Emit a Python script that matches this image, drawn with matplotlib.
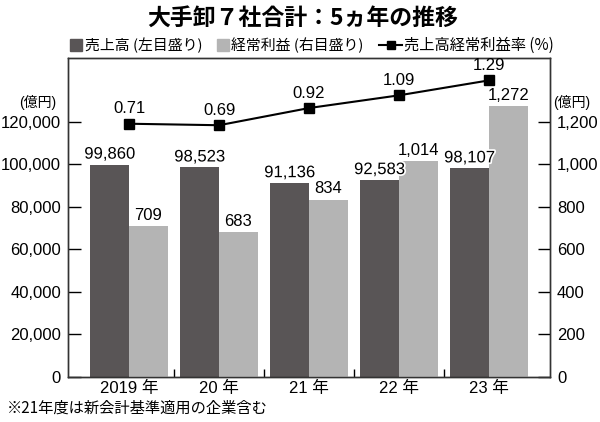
import numpy as np
import matplotlib.pyplot as plt
import matplotlib.patheffects as pe

plt.rcParams['font.family'] = ['Liberation Sans', 'Noto Sans CJK JP', 'DejaVu Sans']

years = ['2019 年', '20 年', '21 年', '22 年', '23 年']
sales = [99860, 98523, 91136, 92583, 98107]
profit = [709, 683, 834, 1014, 1272]
ratio = [0.71, 0.69, 0.92, 1.09, 1.29]

dark = '#595556'
light = '#b4b4b4'

fig = plt.figure(figsize=(6, 4.22), dpi=100)
ax = fig.add_axes([0.1133, 0.1066, 0.8034, 0.756])
ax2 = ax.twinx()
ax3 = ax.twinx()

x = np.arange(len(years))
w = 0.43
ax.bar(x - w / 2, sales, w, color=dark, zorder=2)
ax2.bar(x + w / 2, profit, w, color=light, zorder=2)

halo = [pe.withStroke(linewidth=2.5, foreground='white')]
for xi, v in zip(x, sales):
    ax3.text(xi - w / 2, -2.68 + v / 150000 * 4.27 + 0.04, f'{v:,}', ha='center',
             va='bottom', fontsize=12, path_effects=halo, zorder=5)
for xi, v in zip(x, profit):
    ax2.text(xi + w / 2, v + 15, f'{v:,}', ha='center', va='bottom', fontsize=12)

ax3.plot(x, ratio, color='black', lw=1.5, marker='s', ms=7)
for xi, v in zip(x, ratio):
    ax3.text(xi, v + 0.1, f'{v:.2f}', ha='center', va='bottom', fontsize=12)

ax.set_xlim(-0.68, 4.68)
ax.set_ylim(0, 150000)
ax2.set_ylim(0, 1500)
ax3.set_ylim(-2.68, 1.59)
ax3.axis('off')

ax.set_yticks(np.arange(0, 120001, 20000))
ax.set_yticklabels([f'{v:,}' for v in range(0, 120001, 20000)])
ax2.set_yticks(np.arange(0, 1201, 200))
ax2.set_yticklabels([f'{v:,}' for v in range(0, 1201, 200)])
ax.set_xticks(x)
ax.set_xticklabels(years)
ax.set_xticks(x[:-1] + 0.5, minor=True)

ax.tick_params(axis='y', direction='in', length=9, width=1, labelsize=12, pad=5)
ax2.tick_params(axis='y', direction='in', length=9, width=1, labelsize=12, pad=5)
ax.tick_params(axis='x', which='major', length=0, labelsize=12, pad=3)
ax.tick_params(axis='x', which='minor', direction='in', length=6, width=1)

for a in (ax, ax2):
    for s in a.spines.values():
        s.set_color('#333333')
        s.set_linewidth(1)

ax.text(-0.062, 0.862, '(億円)', transform=ax.transAxes, ha='center', va='center', fontsize=10)
ax2.text(1.044, 0.862, '(億円)', transform=ax.transAxes, ha='center', va='center', fontsize=10)

fig.text(0.505, 0.957, '大手卸７社合計：5ヵ年の推移', ha='center', va='center',
         fontsize=16.5, fontweight='bold', family=['Noto Sans CJK JP'])

# legend row
ly = 0.893
fig.patches.append(plt.Rectangle((0.117, ly - 0.015), 0.02, 0.03, color=dark,
                                 transform=fig.transFigure, figure=fig))
fig.text(0.141, ly, '売上高 (左目盛り)', va='center', fontsize=10.7, family=['Noto Sans CJK JP'])
fig.patches.append(plt.Rectangle((0.362, ly - 0.015), 0.02, 0.03, color=light,
                                 transform=fig.transFigure, figure=fig))
fig.text(0.385, ly, '経常利益 (右目盛り)', va='center', fontsize=10.7, family=['Noto Sans CJK JP'])
fig.lines.append(plt.Line2D([0.632, 0.651, 0.67], [ly, ly, ly], color='black', lw=1.5,
                            marker='s', ms=6, markevery=[1], transform=fig.transFigure))
fig.text(0.674, ly, '売上高経常利益率 (%)', va='center', fontsize=11, family=['Noto Sans CJK JP'])

fig.text(0.012, 0.033, '※21年度は新会計基準適用の企業含む', va='center', fontsize=11,
         family=['Noto Sans CJK JP'])

fig.savefig('out.png', dpi=100)
